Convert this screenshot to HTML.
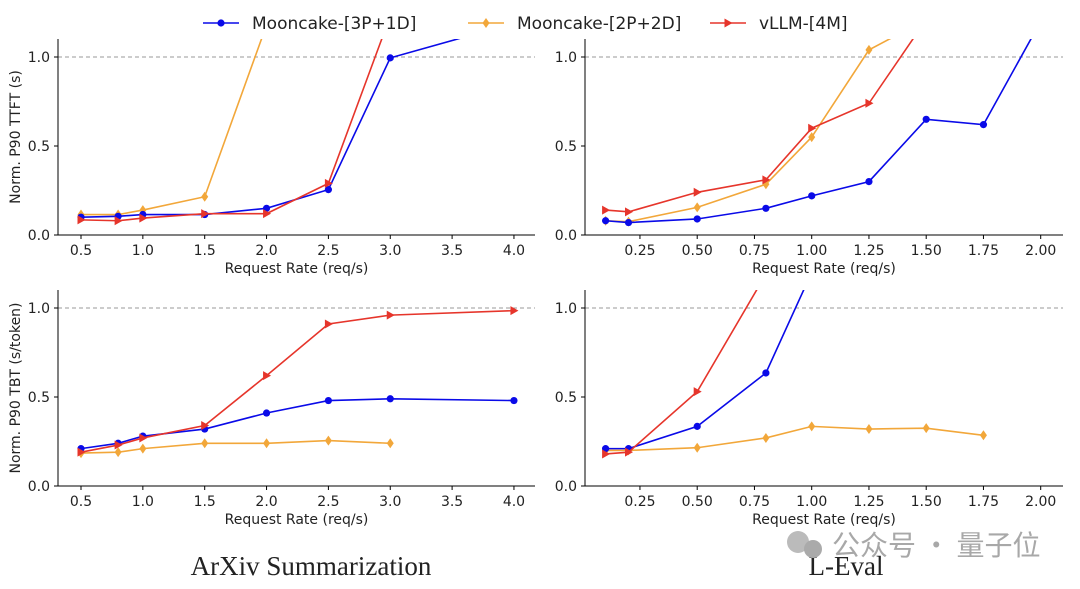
<!DOCTYPE html>
<html><head><meta charset="utf-8">
<style>
html,body{margin:0;padding:0;background:#fff;width:1080px;height:589px;overflow:hidden}
svg text{font-family:"DejaVu Sans","Liberation Sans",sans-serif;fill:#222}
</style></head>
<body>
<svg id="s" width="1080" height="589" xmlns="http://www.w3.org/2000/svg"></svg>
<script>
const B="#0a0ae8",O="#f2a73a",R="#e6352b";
const s=document.getElementById('s');let h='';
h+=`<defs>
<clipPath id="c0"><rect x="58" y="39" width="480" height="197"/></clipPath>
<clipPath id="c1"><rect x="585" y="39" width="480" height="197"/></clipPath>
<clipPath id="c2"><rect x="58" y="290" width="480" height="197"/></clipPath>
<clipPath id="c3"><rect x="585" y="290" width="480" height="197"/></clipPath></defs>`;
function mk(c,x,y,t){
 if(t=='o')return `<circle cx="${x}" cy="${y}" r="3.6" fill="${c}"/>`;
 if(t=='d')return `<polygon points="${x},${y-5} ${x+3.5},${y} ${x},${y+5} ${x-3.5},${y}" fill="${c}"/>`;
 return `<polygon points="${x-3.5},${y-4.5} ${x+4.5},${y} ${x-3.5},${y+4.5}" fill="${c}"/>`;
}
const panels=[
 {L:58,Rr:535,T:39,y0:235,fx:v=>81+(v-0.5)*123.7,xt:[0.5,1,1.5,2,2.5,3,3.5,4],fmt:v=>v.toFixed(1),
  yl:"Norm. P90 TTFT (s)",
  S:[[O,'d',[[0.5,.115],[0.8,.115],[1,.14],[1.5,.215],[2,1.18]]],
     [B,'o',[[0.5,.10],[0.8,.105],[1,.115],[1.5,.115],[2,.15],[2.5,.255],[3,.995],[4,1.19]]],
     [R,'t',[[0.5,.085],[0.8,.08],[1,.095],[1.5,.12],[2,.12],[2.5,.29],[3,1.23]]]]},
 {L:585,Rr:1063,T:39,y0:235,fx:v=>605.6+(v-0.1)*229,xt:[0.25,0.5,0.75,1,1.25,1.5,1.75,2],fmt:v=>v.toFixed(2),
  S:[[O,'d',[[0.1,.08],[0.2,.075],[0.5,.155],[0.8,.285],[1,.55],[1.25,1.04],[1.5,1.21]]],
     [B,'o',[[0.1,.08],[0.2,.07],[0.5,.09],[0.8,.15],[1,.22],[1.25,.30],[1.5,.65],[1.75,.62],[2,1.2]]],
     [R,'t',[[0.1,.14],[0.2,.13],[0.5,.24],[0.8,.31],[1,.60],[1.25,.74],[1.5,1.21]]]]},
 {L:58,Rr:535,T:290,y0:486,fx:v=>81+(v-0.5)*123.7,xt:[0.5,1,1.5,2,2.5,3,3.5,4],fmt:v=>v.toFixed(1),
  yl:"Norm. P90 TBT (s/token)",
  S:[[O,'d',[[0.5,.185],[0.8,.19],[1,.21],[1.5,.24],[2,.24],[2.5,.255],[3,.24]]],
     [B,'o',[[0.5,.21],[0.8,.24],[1,.28],[1.5,.32],[2,.41],[2.5,.48],[3,.49],[4,.48]]],
     [R,'t',[[0.5,.19],[0.8,.23],[1,.27],[1.5,.34],[2,.62],[2.5,.91],[3,.96],[4,.985]]]]},
 {L:585,Rr:1063,T:290,y0:486,fx:v=>605.6+(v-0.1)*229,xt:[0.25,0.5,0.75,1,1.25,1.5,1.75,2],fmt:v=>v.toFixed(2),
  S:[[O,'d',[[0.1,.2],[0.2,.2],[0.5,.215],[0.8,.27],[1,.335],[1.25,.32],[1.5,.325],[1.75,.285]]],
     [B,'o',[[0.1,.21],[0.2,.21],[0.5,.335],[0.8,.635],[1,1.2]]],
     [R,'t',[[0.1,.18],[0.2,.19],[0.5,.53],[0.8,1.19]]]]}
];
panels.forEach((p,i)=>{
 const fy=v=>p.y0-v*178;
 h+=`<line x1="${p.L}" x2="${p.Rr}" y1="${fy(1)}" y2="${fy(1)}" stroke="#999" stroke-dasharray="4,3" stroke-width="1"/>`;
 h+=`<g clip-path="url(#c${i})">`;
 p.S.forEach(([c,t,d])=>{
  h+=`<polyline fill="none" stroke="${c}" stroke-width="1.6" points="${d.map(q=>p.fx(q[0])+','+fy(q[1])).join(' ')}"/>`;
  d.forEach(q=>h+=mk(c,p.fx(q[0]),fy(q[1]),t));
 });
 h+=`</g>`;
 h+=`<line x1="${p.L}" x2="${p.L}" y1="${p.T}" y2="${p.y0}" stroke="#000" stroke-width="1"/>`;
 h+=`<line x1="${p.L}" x2="${p.Rr}" y1="${p.y0}" y2="${p.y0}" stroke="#000" stroke-width="1"/>`;
 [0,0.5,1].forEach(v=>{h+=`<line x1="${p.L-4}" x2="${p.L}" y1="${fy(v)}" y2="${fy(v)}" stroke="#000"/><text x="${p.L-8}" y="${fy(v)+5}" font-size="14" text-anchor="end">${v.toFixed(1)}</text>`;});
 p.xt.forEach(v=>{const x=p.fx(v);h+=`<line x1="${x}" x2="${x}" y1="${p.y0}" y2="${p.y0+4}" stroke="#000"/><text x="${x}" y="${p.y0+20}" font-size="14" text-anchor="middle">${p.fmt(v)}</text>`;});
 h+=`<text x="${(p.L+p.Rr)/2}" y="${p.y0+38}" font-size="14" text-anchor="middle">Request Rate (req/s)</text>`;
 if(p.yl){const cy=(p.T+p.y0)/2;h+=`<text x="20" y="${cy}" font-size="14" text-anchor="middle" transform="rotate(-90 20 ${cy})">${p.yl}</text>`;}
});
[[B,'o',203,"Mooncake-[3P+1D]"],[O,'d',468,"Mooncake-[2P+2D]"],[R,'t',710,"vLLM-[4M]"]].forEach(([c,t,x,l])=>{
 h+=`<line x1="${x}" x2="${x+36}" y1="23" y2="23" stroke="${c}" stroke-width="1.6"/>`+mk(c,x+18,23,t)+`<text x="${x+49}" y="29" font-size="17">${l}</text>`;
});
h+=`<text x="311" y="575" font-size="27" text-anchor="middle" style="font-family:'Liberation Serif',serif">ArXiv Summarization</text>`;
h+=`<text x="846" y="575" font-size="27" text-anchor="middle" style="font-family:'Liberation Serif',serif">L-Eval</text>`;
h+=`<circle cx="798" cy="542" r="11" fill="#bbb"/><circle cx="813" cy="549" r="9" fill="#aaa"/>`;
h+=`<text x="832" y="555" font-size="28" style="font-family:'Noto Sans CJK SC',sans-serif;fill:#a8a8a8">公众号 · 量子位</text>`;
s.innerHTML=h;
</script>
</body></html>
